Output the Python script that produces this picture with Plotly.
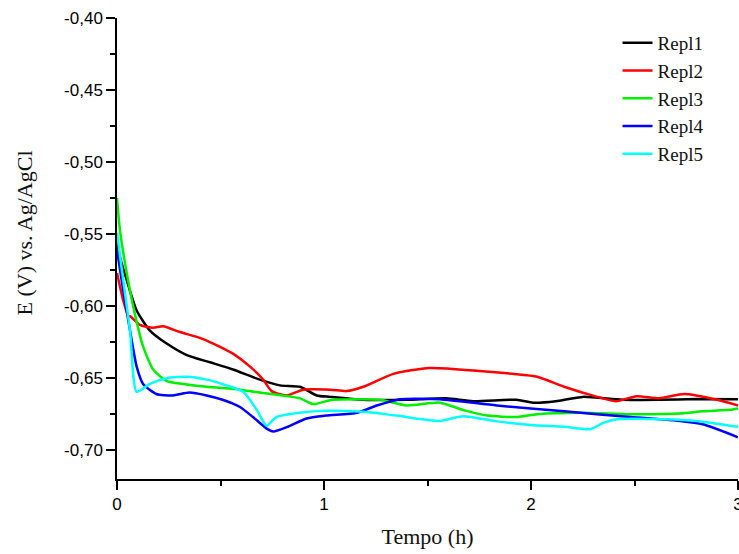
import plotly.graph_objects as go

# Repl1 (black)
x1 = [0.0, 0.014, 0.047, 0.095, 0.159, 0.24, 0.337, 0.449, 0.56, 0.69, 0.787, 0.884, 0.965, 1.03, 1.19, 1.40, 1.59, 1.72, 1.93, 2.01, 2.12, 2.25, 2.44, 2.62, 2.80, 3.0]
y1 = [-0.555, -0.5657, -0.582, -0.603, -0.617, -0.626, -0.634, -0.639, -0.644, -0.651, -0.655, -0.656, -0.662, -0.663, -0.665, -0.665, -0.664, -0.666, -0.665, -0.667, -0.666, -0.663, -0.665, -0.665, -0.6645, -0.6646]

# Repl2 (red)
x2 = [0.0, 0.03, 0.055, 0.063, 0.11, 0.175, 0.223, 0.304, 0.40, 0.465, 0.56, 0.643, 0.706, 0.747, 0.82, 0.90, 1.03, 1.11, 1.19, 1.335, 1.51, 1.75, 1.91, 2.03, 2.16, 2.32, 2.41, 2.51, 2.62, 2.74, 2.90, 3.0]
y2 = [-0.577, -0.596, -0.607, -0.607, -0.613, -0.615, -0.614, -0.618, -0.622, -0.626, -0.633, -0.642, -0.651, -0.659, -0.662, -0.658, -0.658, -0.659, -0.656, -0.647, -0.643, -0.645, -0.647, -0.649, -0.656, -0.663, -0.666, -0.6625, -0.664, -0.661, -0.665, -0.669]

# Repl3 (green)
x3 = [0.0, 0.014, 0.047, 0.078, 0.126, 0.175, 0.24, 0.32, 0.433, 0.594, 0.69, 0.884, 0.948, 1.04, 1.27, 1.40, 1.56, 1.67, 1.79, 1.93, 2.03, 2.24, 2.48, 2.72, 2.83, 2.96, 3.0]
y3 = [-0.525, -0.547, -0.577, -0.600, -0.628, -0.644, -0.652, -0.654, -0.656, -0.658, -0.660, -0.664, -0.668, -0.665, -0.665, -0.669, -0.667, -0.672, -0.676, -0.677, -0.675, -0.674, -0.675, -0.6745, -0.673, -0.672, -0.671]

# Repl4 (blue)
x4 = [0.0, 0.03, 0.063, 0.095, 0.126, 0.19, 0.27, 0.35, 0.433, 0.51, 0.594, 0.657, 0.723, 0.755, 0.82, 0.916, 1.01, 1.16, 1.255, 1.367, 1.56, 1.835, 2.16, 2.48, 2.72, 2.83, 3.0]
y4 = [-0.561, -0.589, -0.617, -0.642, -0.654, -0.661, -0.662, -0.660, -0.662, -0.665, -0.670, -0.677, -0.685, -0.687, -0.684, -0.678, -0.676, -0.674, -0.669, -0.6646, -0.6646, -0.669, -0.673, -0.677, -0.6797, -0.682, -0.691]

# Repl5 (cyan)
x5 = [0.0, 0.03, 0.063, 0.095, 0.159, 0.24, 0.337, 0.433, 0.53, 0.61, 0.675, 0.723, 0.77, 0.884, 1.01, 1.19, 1.35, 1.56, 1.67, 1.835, 2.0, 2.16, 2.285, 2.35, 2.415, 2.64, 2.80, 3.0]
y5 = [-0.549, -0.582, -0.617, -0.6595, -0.654, -0.650, -0.649, -0.651, -0.655, -0.6595, -0.672, -0.683, -0.677, -0.674, -0.6727, -0.6734, -0.676, -0.6797, -0.6764, -0.680, -0.6826, -0.6838, -0.6854, -0.681, -0.6785, -0.6785, -0.6797, -0.6838]

names = ["Repl1", "Repl2", "Repl3", "Repl4", "Repl5"]
colors = ["#000000", "#ff0000", "#00ee00", "#0000ff", "#00ffff"]

y_tickvals = [-0.70, -0.65, -0.60, -0.55, -0.50, -0.45, -0.40]
y_ticktext = ["-0,70", "-0,65", "-0,60", "-0,55", "-0,50", "-0,45", "-0,40"]
x_tickvals = [0, 1, 2, 3]
x_ticktext = ["0", "1", "2", "3"]

fig = go.Figure()
for xs, ys, n, c in zip([x1, x2, x3, x4, x5], [y1, y2, y3, y4, y5], names, colors):
    fig.add_trace(go.Scatter(x=xs, y=ys, name=n, mode="lines",
                             line=dict(color=c, width=2.5, shape="spline", smoothing=0.6)))

fig.update_layout(
    width=739, height=554,
    margin=dict(l=117, r=1, t=18, b=75),
    paper_bgcolor="white", plot_bgcolor="white",
    showlegend=True,
    legend=dict(x=0.806, y=0.987, xanchor="left", yanchor="top",
                font=dict(family="Liberation Serif", size=19, color="#111111"),
                bgcolor="rgba(0,0,0,0)", tracegroupgap=0),
    annotations=[dict(text="E (V) vs. Ag/AgCl", textangle=-90, xref="paper", yref="paper",
                      x=(24 - 117) / 621, y=(479 - 233.5) / 461, xanchor="center", yanchor="middle",
                      showarrow=False, font=dict(family="Liberation Serif", size=22, color="#111111"))],
)
fig.update_xaxes(range=[0, 3], showline=True, linecolor="black", linewidth=1.5, automargin=False,
                 showgrid=False, zeroline=False, ticks="outside", ticklen=9, tickwidth=1.5,
                 tickcolor="black", tickvals=x_tickvals, ticktext=x_ticktext, ticklabeloverflow="allow",
                 tickfont=dict(family="Liberation Sans", size=17, color="black"),
                 minor=dict(dtick=0.5, ticks="outside", ticklen=5, tickwidth=1.5, tickcolor="black", showgrid=False),
                 title=dict(text="Tempo (h)", font=dict(family="Liberation Serif", size=22, color="#111111"), standoff=15))
fig.update_yaxes(range=[-0.72, -0.40], showline=True, linecolor="black", linewidth=1.5, automargin=False,
                 showgrid=False, zeroline=False, ticks="outside", ticklen=9, tickwidth=1.5,
                 tickcolor="black", tickvals=y_tickvals, ticktext=y_ticktext,
                 tickfont=dict(family="Liberation Sans", size=17, color="black"),
                 minor=dict(dtick=0.025, tick0=-0.40, ticks="outside", ticklen=5, tickwidth=1.5, tickcolor="black", showgrid=False))

fig.write_html("out.html")
